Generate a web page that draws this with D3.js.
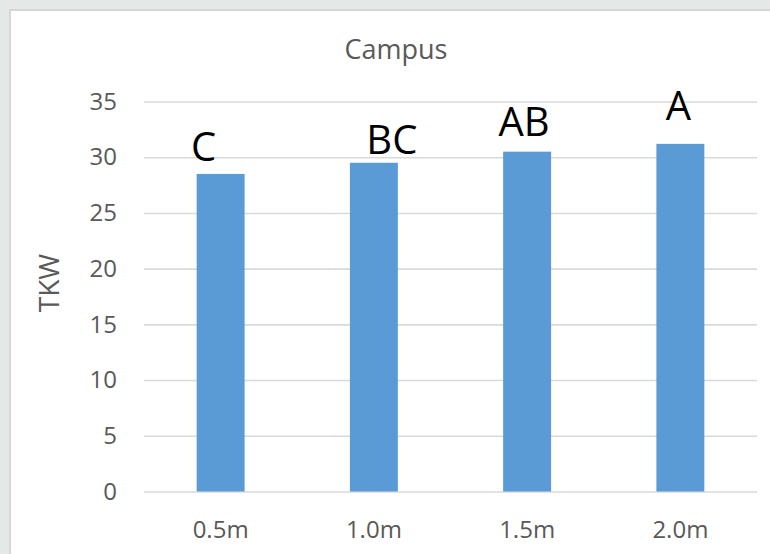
<!DOCTYPE html>
<html>
<head>
<meta charset="utf-8">
<script src="https://cdn.jsdelivr.net/npm/d3@7/dist/d3.min.js"></script>
<style>
  html, body { margin: 0; padding: 0; background: #e4e8e7; }
  svg { display: block; }
</style>
</head>
<body>
<svg id="chart" width="770" height="554"></svg>
<script>
// Campus TKW by spacing
const categories = ["0.5m", "1.0m", "1.5m", "2.0m"];
const tkwValues = [28.5, 29.5, 30.5, 31.2];
const groupLetters = ["C", "BC", "AB", "A"];
const yTicks = [0, 5, 10, 15, 20, 25, 30, 35];

// hand-placed offsets of the significance letters (dx, dy from bar top)
const letterNudge = [[-17, -13], [18, -9], [-3, -16], [-2, -24]];

const W = 770, H = 554;
const margin = { left: 144, right: 13, top: 101.5, bottom: 62.5 };
const svg = d3.select("#chart");
const font = "'Open Sans', 'Noto Sans', sans-serif";

// card background with a light border on top/left
svg.append("rect").attr("x", 0).attr("y", 0).attr("width", W).attr("height", H).attr("fill", "#e4e8e7");
svg.append("rect").attr("x", 10).attr("y", 10).attr("width", W).attr("height", H)
  .attr("fill", "#ffffff").attr("stroke", "#d5d7d7").attr("stroke-width", 2);

const x = d3.scaleBand()
  .domain(categories)
  .range([margin.left, W - margin.right])
  .paddingInner(0.687)
  .paddingOuter(0.3435);

const y = d3.scaleLinear()
  .domain([0, 35])
  .range([H - margin.bottom, margin.top]);

// gridlines
const yAxis = d3.axisLeft(y).tickValues(yTicks).tickSize(-(W - margin.right - margin.left)).tickPadding(27);
const gy = svg.append("g").attr("transform", `translate(${margin.left},0)`).call(yAxis);
gy.select(".domain").remove();
gy.selectAll(".tick line").attr("stroke", "#d9d9d9").attr("stroke-width", 1.6);
gy.selectAll(".tick text")
  .attr("fill", "#595959").attr("font-family", font).attr("font-size", 24);

// bars
svg.append("g").selectAll("rect")
  .data(tkwValues)
  .join("rect")
  .attr("x", (d, i) => x(categories[i]))
  .attr("width", x.bandwidth())
  .attr("y", d => y(d))
  .attr("height", d => y(0) - y(d))
  .attr("fill", "#5b9bd5");

// x axis labels
const xAxis = d3.axisBottom(x).tickSize(0).tickPadding(0);
const gx = svg.append("g").attr("transform", `translate(0,${y(0)})`).call(xAxis);
gx.select(".domain").remove();
gx.selectAll(".tick text")
  .attr("y", 46).attr("dy", 0)
  .attr("fill", "#595959").attr("font-family", font).attr("font-size", 24);

// significance letters
svg.append("g").selectAll("text")
  .data(groupLetters)
  .join("text")
  .attr("x", (d, i) => x(categories[i]) + x.bandwidth() / 2 + letterNudge[i][0])
  .attr("y", (d, i) => y(tkwValues[i]) + letterNudge[i][1])
  .attr("text-anchor", "middle")
  .attr("font-family", font).attr("font-size", 40).attr("fill", "#000")
  .text(d => d);

// title
svg.append("text")
  .attr("x", 396).attr("y", 59)
  .attr("text-anchor", "middle")
  .attr("font-family", font).attr("font-size", 27).attr("fill", "#595959")
  .text("Campus");

// y axis title
svg.append("text")
  .attr("transform", "translate(59,283) rotate(-90)")
  .attr("text-anchor", "middle")
  .attr("font-family", font).attr("font-size", 28).attr("fill", "#595959")
  .text("TKW");
</script>
</body>
</html>
